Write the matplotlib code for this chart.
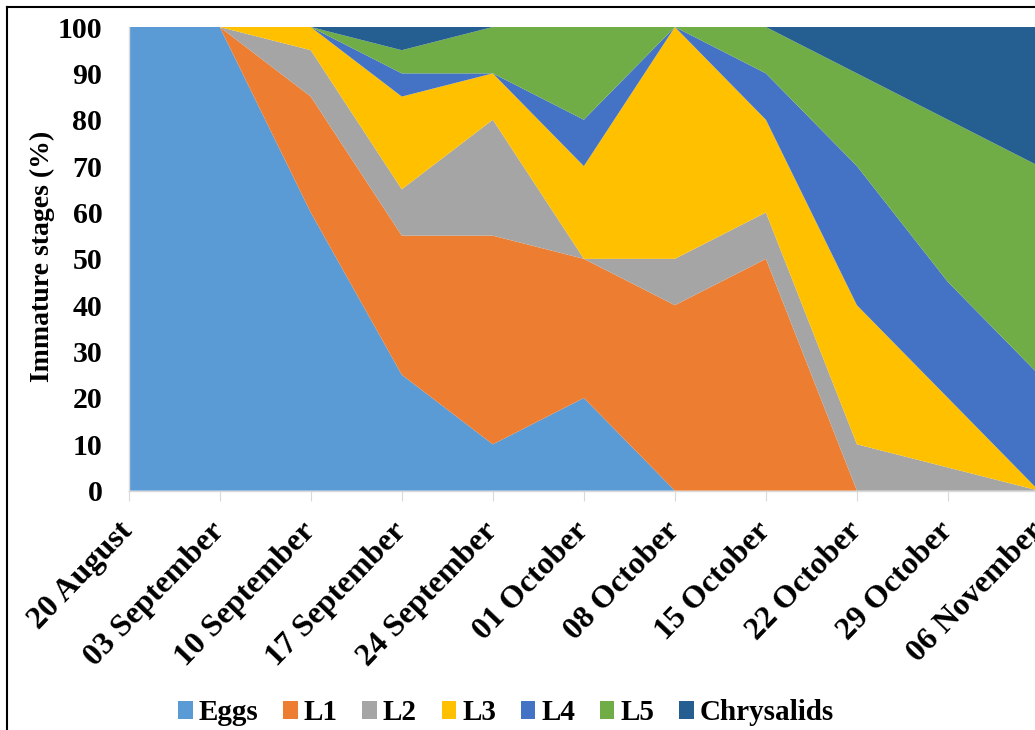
import numpy as np
import matplotlib
matplotlib.use("Agg")
import matplotlib.pyplot as plt
from matplotlib.lines import Line2D
from matplotlib.patches import Patch

# sampling dates and share of each immature stage (%)
dates = ["20 August", "03 September", "10 September", "17 September", "24 September",
         "01 October", "08 October", "15 October", "22 October", "29 October", "06 November"]
eggs = [100, 100, 60, 25, 10, 20, 0, 0, 0, 0, 0]
l1 = [0, 0, 25, 30, 45, 30, 40, 50, 0, 0, 0]
l2 = [0, 0, 10, 10, 25, 0, 10, 10, 10, 5, 0]
l3 = [0, 0, 5, 20, 10, 20, 50, 20, 30, 15, 0]
l4 = [0, 0, 0, 5, 0, 10, 0, 10, 30, 25, 25]
l5 = [0, 0, 0, 5, 10, 20, 0, 10, 20, 35, 45]
chrysalids = [0, 0, 0, 5, 0, 0, 0, 0, 10, 20, 30]

stages = ["Eggs", "L1", "L2", "L3", "L4", "L5", "Chrysalids"]
colors = ["#5B9BD5", "#ED7D31", "#A5A5A5", "#FFC000", "#4472C4", "#70AD47", "#255E91"]

plt.rcParams["font.family"] = ["Liberation Serif", "DejaVu Serif"]

fig = plt.figure(figsize=(10.35, 7.3), dpi=100)
ax = fig.add_axes([128.7 / 1035, 239.3 / 730, 910.3 / 1035, 463.7 / 730])

x = np.arange(len(dates))
ax.stackplot(x, eggs, l1, l2, l3, l4, l5, chrysalids, colors=colors, labels=stages, linewidth=0)

ax.set_xlim(0, len(dates) - 1)
ax.set_ylim(0, 100)
ax.set_yticks(range(0, 101, 10))
ax.set_yticklabels([str(v) for v in range(0, 101, 10)], fontsize=21.5, fontweight="bold")
ax.tick_params(axis="y", length=0, pad=19)

ax.set_xticks(x)
ax.set_xticklabels(dates, fontsize=23, fontweight="bold",
                   rotation=46, ha="right", va="center", rotation_mode="anchor")
ax.tick_params(axis="x", length=7, color="#D9D9D9", pad=19)

for side in ["top", "right"]:
    ax.spines[side].set_visible(False)
for side in ["left", "bottom"]:
    ax.spines[side].set_color("#D9D9D9")
    ax.spines[side].set_linewidth(1)

fig.text(42 / 1035, 1 - 256 / 730, "Immature stages (%)", rotation=90,
         ha="center", va="center", fontsize=20, fontweight="bold")

handles = [Patch(facecolor=c, edgecolor="none") for c in colors]
fig.legend(handles, stages, loc="center", bbox_to_anchor=(506 / 1035, 17 / 730),
           ncol=7, frameon=False, prop={"size": 21, "weight": "bold"},
           handlelength=0.5, handleheight=0.6, handletextpad=0.2, columnspacing=0.85)

# frame lines on the left and top edges
fig.add_artist(Line2D([7 / 1035, 7 / 1035], [0, 1 - 7 / 730], color="black", lw=1.5,
                      transform=fig.transFigure))
fig.add_artist(Line2D([7 / 1035, 1], [1 - 7 / 730, 1 - 7 / 730], color="black", lw=1.5,
                      transform=fig.transFigure))

fig.savefig("out.png", dpi=100)
